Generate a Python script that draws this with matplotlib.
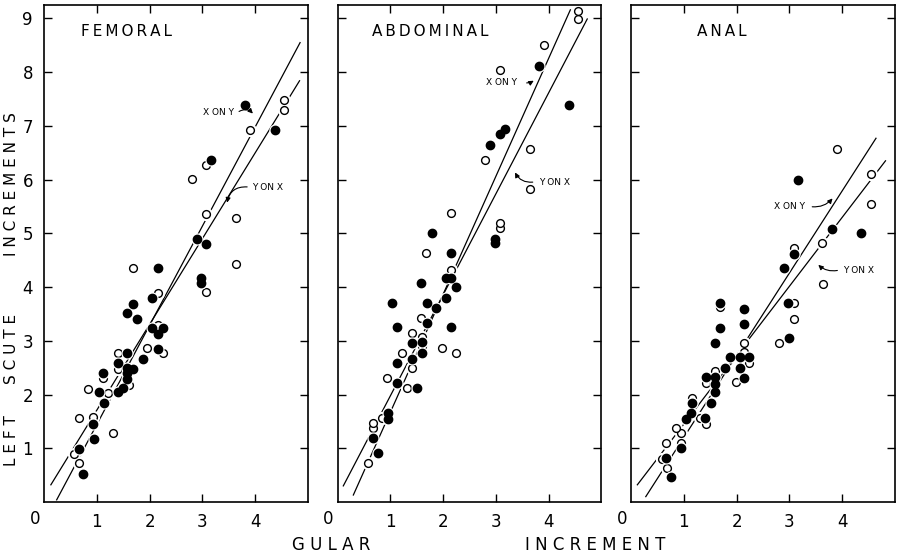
import matplotlib.pyplot as plt

plt.rcParams['font.family'] = 'DejaVu Sans'

# FEMORAL panel
fem_filled_x = [0.74, 0.67, 0.95, 0.93, 1.14, 1.04, 1.41, 1.50, 1.12, 1.58, 1.58, 1.58, 1.69, 1.41, 1.87, 1.58,
                2.15, 2.15, 2.05, 2.25, 1.77, 1.58, 1.68, 2.05, 2.15, 2.97, 2.97, 3.06, 2.89, 3.16, 4.37, 3.81]
fem_filled_y = [0.53, 0.99, 1.17, 1.45, 1.84, 2.04, 2.04, 2.12, 2.40, 2.29, 2.40, 2.50, 2.48, 2.58, 2.67, 2.77,
                2.85, 3.13, 3.23, 3.23, 3.41, 3.51, 3.68, 3.79, 4.35, 4.07, 4.17, 4.80, 4.90, 6.37, 6.93, 7.39]
fem_open_x = [0.66, 0.56, 1.31, 0.66, 0.93, 0.84, 1.22, 1.61, 1.12, 1.41, 1.41, 1.96, 2.25, 2.15, 2.15, 1.69,
              3.07, 3.63, 3.63, 3.06, 2.80, 3.07, 3.90, 4.55, 4.55]
fem_open_y = [0.72, 0.90, 1.28, 1.56, 1.58, 2.10, 2.02, 2.18, 2.30, 2.48, 2.77, 2.86, 2.77, 3.30, 3.89, 4.35,
              3.90, 4.43, 5.28, 5.36, 6.01, 6.28, 6.93, 7.29, 7.49]

# ABDOMINAL panel
abd_filled_x = [0.76, 0.67, 0.95, 0.95, 1.13, 1.50, 1.12, 1.41, 1.60, 1.60, 1.41, 1.13, 2.15, 1.69, 1.87, 1.04,
                1.69, 2.06, 2.24, 1.58, 2.05, 2.15, 2.15, 1.79, 2.98, 2.98, 2.89, 3.08, 3.18, 4.38, 3.81]
abd_filled_y = [0.91, 1.19, 1.55, 1.66, 2.22, 2.12, 2.59, 2.67, 2.78, 2.98, 2.96, 3.25, 3.25, 3.33, 3.61, 3.70,
                3.70, 3.80, 4.00, 4.07, 4.17, 4.17, 4.63, 5.00, 4.82, 4.89, 6.64, 6.84, 6.94, 7.39, 8.12]
abd_open_x = [0.57, 0.67, 0.67, 0.85, 1.31, 0.94, 1.41, 1.22, 1.98, 2.25, 1.60, 1.60, 1.41, 1.58, 1.68, 2.15,
              2.15, 3.08, 3.08, 3.64, 2.80, 3.64, 3.08, 3.91, 4.55, 4.55]
abd_open_y = [0.72, 1.37, 1.47, 1.57, 2.12, 2.30, 2.49, 2.78, 2.87, 2.77, 2.90, 3.07, 3.14, 3.43, 4.64, 4.31,
              5.37, 5.10, 5.19, 5.83, 6.37, 6.57, 8.04, 8.51, 8.99, 9.14]

# ANAL panel
anal_filled_x = [0.76, 0.67, 0.95, 1.04, 1.41, 1.13, 1.15, 1.51, 1.60, 1.60, 1.60, 1.42, 2.14, 1.78, 2.06,
                 1.88, 2.06, 2.24, 1.59, 2.99, 1.69, 2.14, 2.14, 1.69, 2.98, 2.89, 3.08, 4.36, 3.81, 3.17]
anal_filled_y = [0.46, 0.81, 1.00, 1.55, 1.56, 1.65, 1.84, 1.84, 2.04, 2.20, 2.32, 2.32, 2.30, 2.50, 2.50,
                 2.69, 2.69, 2.69, 2.96, 3.05, 3.23, 3.31, 3.60, 3.71, 3.70, 4.35, 4.61, 5.00, 5.09, 6.00]
anal_open_x = [0.68, 0.58, 0.67, 0.95, 0.95, 0.86, 1.30, 1.42, 1.15, 1.42, 1.60, 1.98, 2.23, 2.14, 2.14,
               2.80, 1.69, 3.08, 3.08, 3.63, 3.08, 3.62, 4.55, 4.55, 3.91]
anal_open_y = [0.64, 0.80, 1.09, 1.09, 1.28, 1.37, 1.56, 1.46, 1.93, 2.22, 2.43, 2.23, 2.59, 2.80, 2.96,
               2.96, 3.62, 3.41, 3.70, 4.06, 4.72, 4.82, 5.55, 6.10, 6.57]

# regression line end points: (x0, y0, x1, y1)
fem_x_on_y = [0.24, 0.04, 4.85, 8.55]
fem_y_on_x = [0.13, 0.32, 4.84, 7.84]
abd_x_on_y = [0.30, 0.13, 4.41, 9.16]
abd_y_on_x = [0.11, 0.30, 4.73, 8.99]
anal_x_on_y = [0.28, 0.10, 4.64, 6.77]
anal_y_on_x = [0.12, 0.32, 4.82, 6.35]

ts = '\u2009'
panels = [
    (ts.join("FEMORAL"), 0.14, fem_filled_x, fem_filled_y, fem_open_x, fem_open_y, fem_x_on_y, fem_y_on_x,
     (3.01, 7.25), (3.65, 7.24), (3.99, 7.19), -0.5, (3.95, 5.85), (3.90, 5.86), (3.46, 5.52), 0.5),
    (ts.join("ABDOMINAL"), 0.13, abd_filled_x, abd_filled_y, abd_open_x, abd_open_y, abd_x_on_y, abd_y_on_x,
     (2.81, 7.80), (3.53, 7.80), (3.76, 7.87), 0.2, (3.81, 5.95), (3.75, 5.96), (3.34, 6.18), -0.4),
    (ts.join("ANAL"), 0.25, anal_filled_x, anal_filled_y, anal_open_x, anal_open_y, anal_x_on_y, anal_y_on_x,
     (2.71, 5.50), (3.38, 5.50), (3.85, 5.69), 0.3, (4.02, 4.31), (3.96, 4.32), (3.51, 4.45), -0.3),
]

fig = plt.figure(figsize=(9.01, 5.55), dpi=100)
lefts = [44, 337.5, 631]

for i, (title, tx, fx, fy, ox, oy, xy_line, yx_line,
        t1, a1s, a1e, r1, t2, a2s, a2e, r2) in enumerate(panels):
    ax = fig.add_axes([lefts[i] / 901, 1 - 502 / 555, 264 / 901, 497 / 555])
    ax.set_xlim(0, 5)
    ax.set_ylim(0, 9.25)

    for ln in (xy_line, yx_line):
        ax.plot([ln[0], ln[2]], [ln[1], ln[3]], color='black', lw=0.9, zorder=2)

    # white halos break the lines around the points, like the drawing
    ax.plot(ox, oy, 'o', ms=8.5, mfc='white', mec='white', zorder=2.4)
    ax.plot(ox, oy, 'o', ms=5.6, mfc='white', mec='black', mew=1.0, zorder=2.5)
    ax.plot(fx, fy, 'o', ms=7.8, mfc='white', mec='white', zorder=2.6)
    ax.plot(fx, fy, 'o', ms=6.0, mfc='black', mec='black', zorder=2.7)

    ax.text(tx, 0.946, title, transform=ax.transAxes, fontsize=11, va='center', ha='left')

    ax.text(t1[0], t1[1], 'X ON Y', fontsize=6.5, va='center', ha='left')
    ax.annotate('', xy=a1e, xytext=a1s,
                arrowprops=dict(arrowstyle='-|>', color='black', lw=0.8, mutation_scale=7,
                                connectionstyle='arc3,rad=%s' % r1))
    ax.text(t2[0], t2[1], 'Y ON X', fontsize=6.5, va='center', ha='left')
    ax.annotate('', xy=a2e, xytext=a2s,
                arrowprops=dict(arrowstyle='-|>', color='black', lw=0.8, mutation_scale=7,
                                connectionstyle='arc3,rad=%s' % r2))

    ax.set_xticks([1, 2, 3, 4])
    ax.set_yticks(range(1, 10))
    ax.tick_params(direction='in', length=6, width=1.0, top=True, right=True,
                   labelsize=12, pad=8)
    if i > 0:
        ax.set_yticklabels([])
    for s in ax.spines.values():
        s.set_linewidth(1.2)
    ax.text(-0.035, -0.035, '0', transform=ax.transAxes, fontsize=12, ha='center', va='center')

fig.text(0.0133, 1 - 441 / 555, 'L E F T', rotation=90, fontsize=11, ha='center', va='center')
fig.text(0.0133, 1 - 349 / 555, 'S C U T E', rotation=90, fontsize=11, ha='center', va='center')
fig.text(0.0133, 1 - 184 / 555, 'I N C R E M E N T S', rotation=90, fontsize=11, ha='center', va='center')
fig.text(331 / 901, 1 - 545 / 555, 'G U L A R', fontsize=12, ha='center', va='center')
fig.text(595 / 901, 1 - 545 / 555, 'I N C R E M E N T', fontsize=12, ha='center', va='center')

fig.savefig('out.png', dpi=100)
